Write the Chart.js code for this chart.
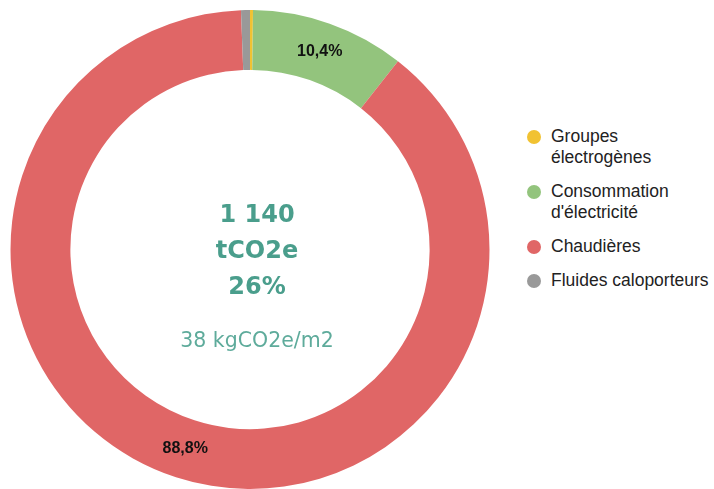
<!DOCTYPE html>
<html>
<head>
<meta charset="utf-8">
<script src="https://cdn.jsdelivr.net/npm/chart.js@4/dist/chart.umd.min.js"></script>
<style>
  html, body { margin: 0; padding: 0; background: #fff; }
  #wrap { position: relative; width: 714px; height: 489px; }
  #chartBox { position: absolute; left: 0; top: 0; width: 500px; height: 489px; }
  #legend { position: absolute; left: 527px; top: 126px; font-family: "Liberation Sans", Arial, sans-serif; font-size: 17.5px; color: #222; }
  #legend .item { display: flex; align-items: flex-start; margin-bottom: 13px; line-height: 21px; }
  #legend .dot { width: 14px; height: 14px; border-radius: 50%; margin-top: 4px; margin-right: 10px; flex: none; }
</style>
</head>
<body>
<div id="wrap">
  <div id="chartBox"><canvas id="chart"></canvas></div>
  <div id="legend"></div>
</div>
<script>
// data
const labels = [['Groupes', 'électrogènes'], ['Consommation', "d'électricité"], ['Chaudières'], ['Fluides caloporteurs']];
const values = [0.2, 10.4, 88.8, 0.6];
const colors = ['#f1c232', '#93c47d', '#e06666', '#999999'];
const centerLines = ['1 140', 'tCO2e', '26%'];
const subText = '38 kgCO2e/m2';

// html legend
const legendEl = document.getElementById('legend');
labels.forEach((lab, i) => {
    const item = document.createElement('div');
    item.className = 'item';
    item.innerHTML = '<span class="dot" style="background:' + colors[i] + '"></span><span>' + lab.join('<br>') + '</span>';
    legendEl.appendChild(item);
});

// center text + slice labels
const overlay = {
    id: 'overlay',
    afterDatasetsDraw(chart) {
        const ctx = chart.ctx;
        const arcs = chart.getDatasetMeta(0).data;
        const cx = arcs[0].x, cy = arcs[0].y;
        ctx.save();
        ctx.textAlign = 'center';
        ctx.textBaseline = 'middle';

        ctx.fillStyle = '#4a9e8c';
        ctx.font = 'bold 24px "DejaVu Sans", sans-serif';
        centerLines.forEach((t, i) => ctx.fillText(t, cx + 7, cy - 34 + i * 36));
        ctx.fillStyle = '#5eab9b';
        ctx.font = '20.5px "DejaVu Sans", sans-serif';
        ctx.fillText(subText, cx + 7, cy + 92);

        ctx.fillStyle = '#111';
        ctx.font = 'bold 16px "Liberation Sans", Arial, sans-serif';
        arcs.forEach((arc, i) => {
            if (values[i] < 5) return;
            const p = arc.tooltipPosition();
            ctx.fillText(values[i].toFixed(1).replace('.', ',') + '%', p.x, p.y);
        });
        ctx.restore();
    }
};

new Chart(document.getElementById('chart'), {
    type: 'doughnut',
    data: {
        labels: labels.map(l => l.join(' ')),
        datasets: [{
            data: values,
            backgroundColor: colors,
            borderWidth: 0
        }]
    },
    options: {
        responsive: true,
        maintainAspectRatio: false,
        animation: false,
        cutout: '75%',
        layout: { padding: { top: 10, bottom: 0, left: 0, right: 0 } },
        plugins: {
            legend: { display: false },
            tooltip: { enabled: false }
        }
    },
    plugins: [overlay]
});
</script>
</body>
</html>
